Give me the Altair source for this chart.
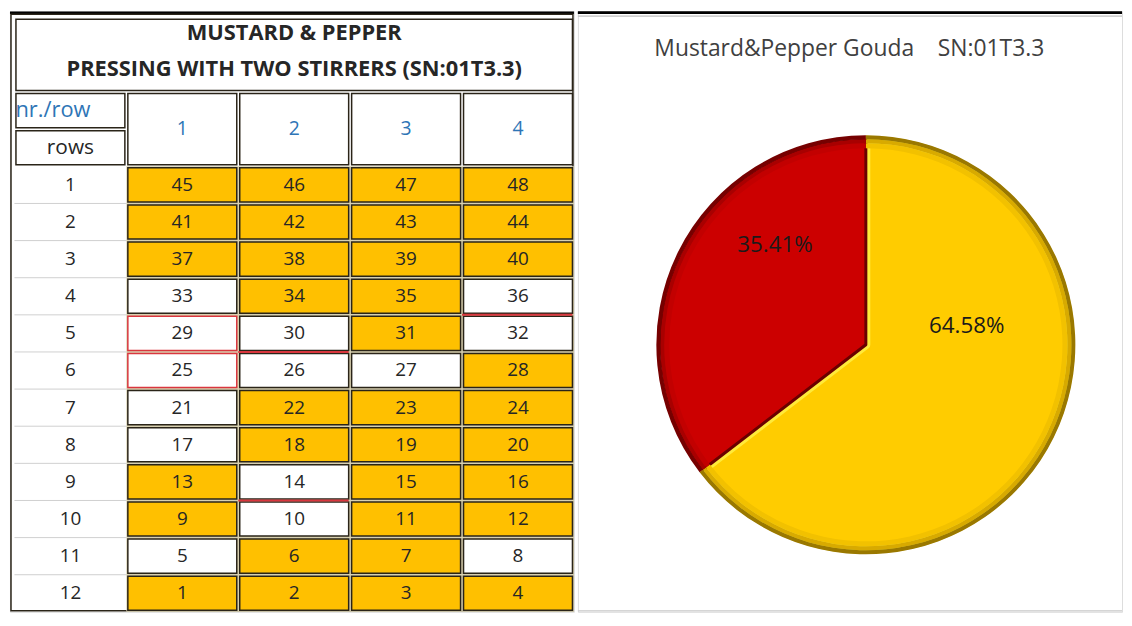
import altair as alt
import pandas as pd

# ------------------------------------------------------------------ data
table_title = ["MUSTARD & PEPPER", "PRESSING WITH TWO STIRRERS (SN:01T3.3)"]
corner_top = "nr./row"
corner_bottom = "rows"
col_labels = ["1", "2", "3", "4"]
row_labels = ["1", "2", "3", "4", "5", "6", "7", "8", "9", "10", "11", "12"]
numbers = [
    [45, 46, 47, 48],
    [41, 42, 43, 44],
    [37, 38, 39, 40],
    [33, 34, 35, 36],
    [29, 30, 31, 32],
    [25, 26, 27, 28],
    [21, 22, 23, 24],
    [17, 18, 19, 20],
    [13, 14, 15, 16],
    [9, 10, 11, 12],
    [5, 6, 7, 8],
    [1, 2, 3, 4],
]
pressed = [
    [1, 1, 1, 1],
    [1, 1, 1, 1],
    [1, 1, 1, 1],
    [0, 1, 1, 0],
    [0, 0, 1, 0],
    [0, 0, 0, 1],
    [0, 1, 1, 1],
    [0, 1, 1, 1],
    [1, 0, 1, 1],
    [1, 0, 1, 1],
    [0, 1, 1, 0],
    [1, 1, 1, 1],
]
red_box = [29, 25]
red_under = [30, 36, 14]

pie_title = "Mustard&Pepper Gouda\u00a0\u00a0\u00a0\u00a0SN:01T3.3"
pie_names = ["Yellow", "Red"]
pie_values = [64.58, 35.41]
pie_labels = ["64.58%", "35.41%"]

# ------------------------------------------------------------------ styles
YELLOW = "#FFC000"
DARK = "#2A2418"
RED_LINE = "#D9363E"
BLUE = "#2E75B6"
TEXT = "#262626"
FONT = "Open Sans"
W1, W2, H = 568, 548, 605

# ------------------------------------------------------------------ tables
cells, rlabels, under = [], [], []
for r, (nums, flags) in enumerate(zip(numbers, pressed)):
    for c, (n, f) in enumerate(zip(nums, flags)):
        cells.append(dict(x=c + 1, x2=c + 2, y=r + 4, y2=r + 5, xm=c + 1.5, ym=r + 4.5,
                          t=str(n), fill=YELLOW if f else "white",
                          stroke=RED_LINE if n in red_box else DARK))
        if n in red_under:
            under.append(dict(x=c + 1, x2=c + 2, y=r + 5))
for r, lab in enumerate(row_labels):
    rlabels.append(dict(x=0, x2=1, y=r + 4, y2=r + 5, xm=0.5, ym=r + 4.5, t=lab))
cells_df = pd.DataFrame(cells)
rl_df = pd.DataFrame(rlabels)
under_df = pd.DataFrame(under)
grid_df = pd.DataFrame([dict(x=0, x2=1, y=r + 5) for r in range(len(row_labels) - 1)])

frames = [dict(x=0, x2=5, y=0, y2=2), dict(x=0, x2=1, y=2, y2=3), dict(x=0, x2=1, y=3, y2=4)]
frames += [dict(x=c + 1, x2=c + 2, y=2, y2=4) for c in range(len(col_labels))]
frames_df = pd.DataFrame(frames)
outer_df = pd.DataFrame([dict(x=0, x2=5, y=0, y2=16)])
gapbg_df = pd.DataFrame([dict(x=1, x2=5, y=4, y2=16)])

title_df = pd.DataFrame([dict(xm=2.5, ym=0.42 + 0.96 * i, t=s) for i, s in enumerate(table_title)])
colh_df = pd.DataFrame([dict(xm=c + 1.5, ym=3, t=s) for c, s in enumerate(col_labels)])
corner1_df = pd.DataFrame([dict(xm=0, ym=2.48, t=corner_top)])
corner2_df = pd.DataFrame([dict(xm=0.5, ym=3.5, t=corner_bottom)])

xs = alt.Scale(domain=[-0.04, 5], nice=False, zero=False)
ys = alt.Scale(domain=[-0.18, 16], reverse=True, nice=False, zero=False)
X = lambda f: alt.X(f"{f}:Q", scale=xs, axis=None)
Y = lambda f: alt.Y(f"{f}:Q", scale=ys, axis=None)

topline_t = alt.Chart(outer_df).mark_rule(color="black", strokeWidth=2.5).encode(
    x=alt.value(0), x2=alt.value(W1), y=alt.value(1.5))
outer = alt.Chart(outer_df).mark_rect(fill="white", stroke=DARK, strokeWidth=1.5,
                                      xOffset=-3.5, yOffset=-3.5, x2Offset=-1, y2Offset=-1).encode(
    x=X("x"), x2="x2", y=Y("y"), y2="y2")
gapbg = alt.Chart(gapbg_df).mark_rect(fill="#D8D0B0").encode(x=X("x"), x2="x2", y=Y("y"), y2="y2")
frame_rects = alt.Chart(frames_df).mark_rect(fill="white", stroke=DARK, strokeWidth=1.5,
                                             xOffset=1.5, x2Offset=-1.5, yOffset=1.5, y2Offset=-1.5).encode(
    x=X("x"), x2="x2", y=Y("y"), y2="y2")
cell_rects = alt.Chart(cells_df).mark_rect(strokeWidth=1.5, xOffset=1.5, x2Offset=-1.5,
                                           yOffset=1.5, y2Offset=-1.5).encode(
    x=X("x"), x2="x2", y=Y("y"), y2="y2",
    fill=alt.Fill("fill:N", scale=None), stroke=alt.Stroke("stroke:N", scale=None))
grid_rules = alt.Chart(grid_df).mark_rule(color="#D0D0D0", strokeWidth=1).encode(
    x=X("x"), x2="x2", y=Y("y"))
under_rules = alt.Chart(under_df).mark_rule(color=RED_LINE, strokeWidth=2, x2Offset=-1.5).encode(
    x=X("x"), x2="x2", y=Y("y"))

title_txt = alt.Chart(title_df).mark_text(fontWeight="bold", color=TEXT, font=FONT, fontSize=22,
                                          baseline="middle").encode(x=X("xm"), y=Y("ym"), text="t:N")
colh_txt = alt.Chart(colh_df).mark_text(color=BLUE, font=FONT, fontSize=19.5, baseline="middle").encode(
    x=X("xm"), y=Y("ym"), text="t:N")
c1_txt = alt.Chart(corner1_df).mark_text(color=BLUE, align="left", dx=1, font=FONT, fontSize=22,
                                         baseline="middle").encode(x=X("xm"), y=Y("ym"), text="t:N")
c2_txt = alt.Chart(corner2_df).mark_text(color=TEXT, font=FONT, fontSize=21, baseline="middle").encode(
    x=X("xm"), y=Y("ym"), text="t:N")
rl_txt = alt.Chart(rl_df).mark_text(color=TEXT, font=FONT, fontSize=19, baseline="middle").encode(
    x=X("xm"), y=Y("ym"), text="t:N")
num_txt = alt.Chart(cells_df).mark_text(color=TEXT, font=FONT, fontSize=19, baseline="middle").encode(
    x=X("xm"), y=Y("ym"), text="t:N")

table = alt.layer(topline_t, outer, gapbg, frame_rects, cell_rects, grid_rules, under_rules,
                  title_txt, colh_txt, c1_txt, c2_txt, rl_txt, num_txt).properties(width=W1, height=H)

# ------------------------------------------------------------------ pie
pie_df = pd.DataFrame(dict(name=pie_names, value=pie_values, label=pie_labels,
                           idx=list(range(len(pie_names)))))
CX, CY = 290, 336
base = alt.Chart(pie_df).encode(
    theta=alt.Theta("value:Q", stack=True),
    order=alt.Order("idx:Q"),
    detail="name:N",
    x=alt.value(CX), y=alt.value(CY),
)


def shade(ycol, rcol):
    return f"datum.name == 'Red' ? '{rcol}' : '{ycol}'"


# main slices: yellow drawn first with a wide light outline (its inner half stays
# visible as a highlight band), red drawn on top with a dark outline
arc_main = base.transform_calculate(
    c=shade("#FFCC00", "#CC0000"), s=shade("#FFEA3A", "#6A0000"),
    sw="datum.name == 'Red' ? 3 : 9").mark_arc(outerRadius=206, strokeJoin="round").encode(
    fill=alt.Fill("c:N", scale=None), stroke=alt.Stroke("s:N", scale=None),
    strokeWidth=alt.StrokeWidth("sw:Q", scale=None))


def ring(r0, r1, ycol, rcol):
    return base.transform_calculate(c=shade(ycol, rcol)).mark_arc(
        innerRadius=r0, outerRadius=r1).encode(fill=alt.Fill("c:N", scale=None))


ring1 = ring(198, 203, "#F2C100", "#C20000")
ring2 = ring(203, 207, "#D8AA00", "#A80000")
ring3 = ring(207, 211, "#9A7800", "#760000")

lab_red = base.transform_calculate(t="datum.name == 'Red' ? datum.label : ''").mark_text(
    radius=140, dx=34, dy=-38, font=FONT, fontSize=22.5, color="#1A1A1A").encode(text="t:N")
lab_yel = base.transform_calculate(t="datum.name == 'Yellow' ? datum.label : ''").mark_text(
    radius=110, dx=3, dy=-68, font=FONT, fontSize=22.5, color="#1A1A1A").encode(text="t:N")

title_p = alt.Chart(pd.DataFrame(dict(t=[pie_title]))).mark_text(
    font=FONT, fontSize=23, color="#404040", align="left", baseline="middle").encode(
    x=alt.value(77), y=alt.value(38), text="t:N")
topline_p = alt.Chart(pie_df).mark_rule(color="black", strokeWidth=2.5).encode(
    x=alt.value(0), x2=alt.value(W2), y=alt.value(1.5))
grayline_p = alt.Chart(pie_df).mark_rule(color="#C8C8C8", strokeWidth=1).encode(
    x=alt.value(0), x2=alt.value(W2), y=alt.value(5))
bottom_p = alt.Chart(pie_df).mark_rule(color="#D0D0D0", strokeWidth=1).encode(
    x=alt.value(0), x2=alt.value(W2), y=alt.value(H - 1))

pie = alt.layer(topline_p, grayline_p, bottom_p, title_p, arc_main, ring1, ring2, ring3,
                lab_red, lab_yel).properties(width=W2, height=H)

chart = alt.hconcat(table, pie, spacing=0).configure_view(stroke=None).configure(
    padding=0, background="white")

chart.save("out.html", embed_options={"renderer": "svg", "actions": False})
